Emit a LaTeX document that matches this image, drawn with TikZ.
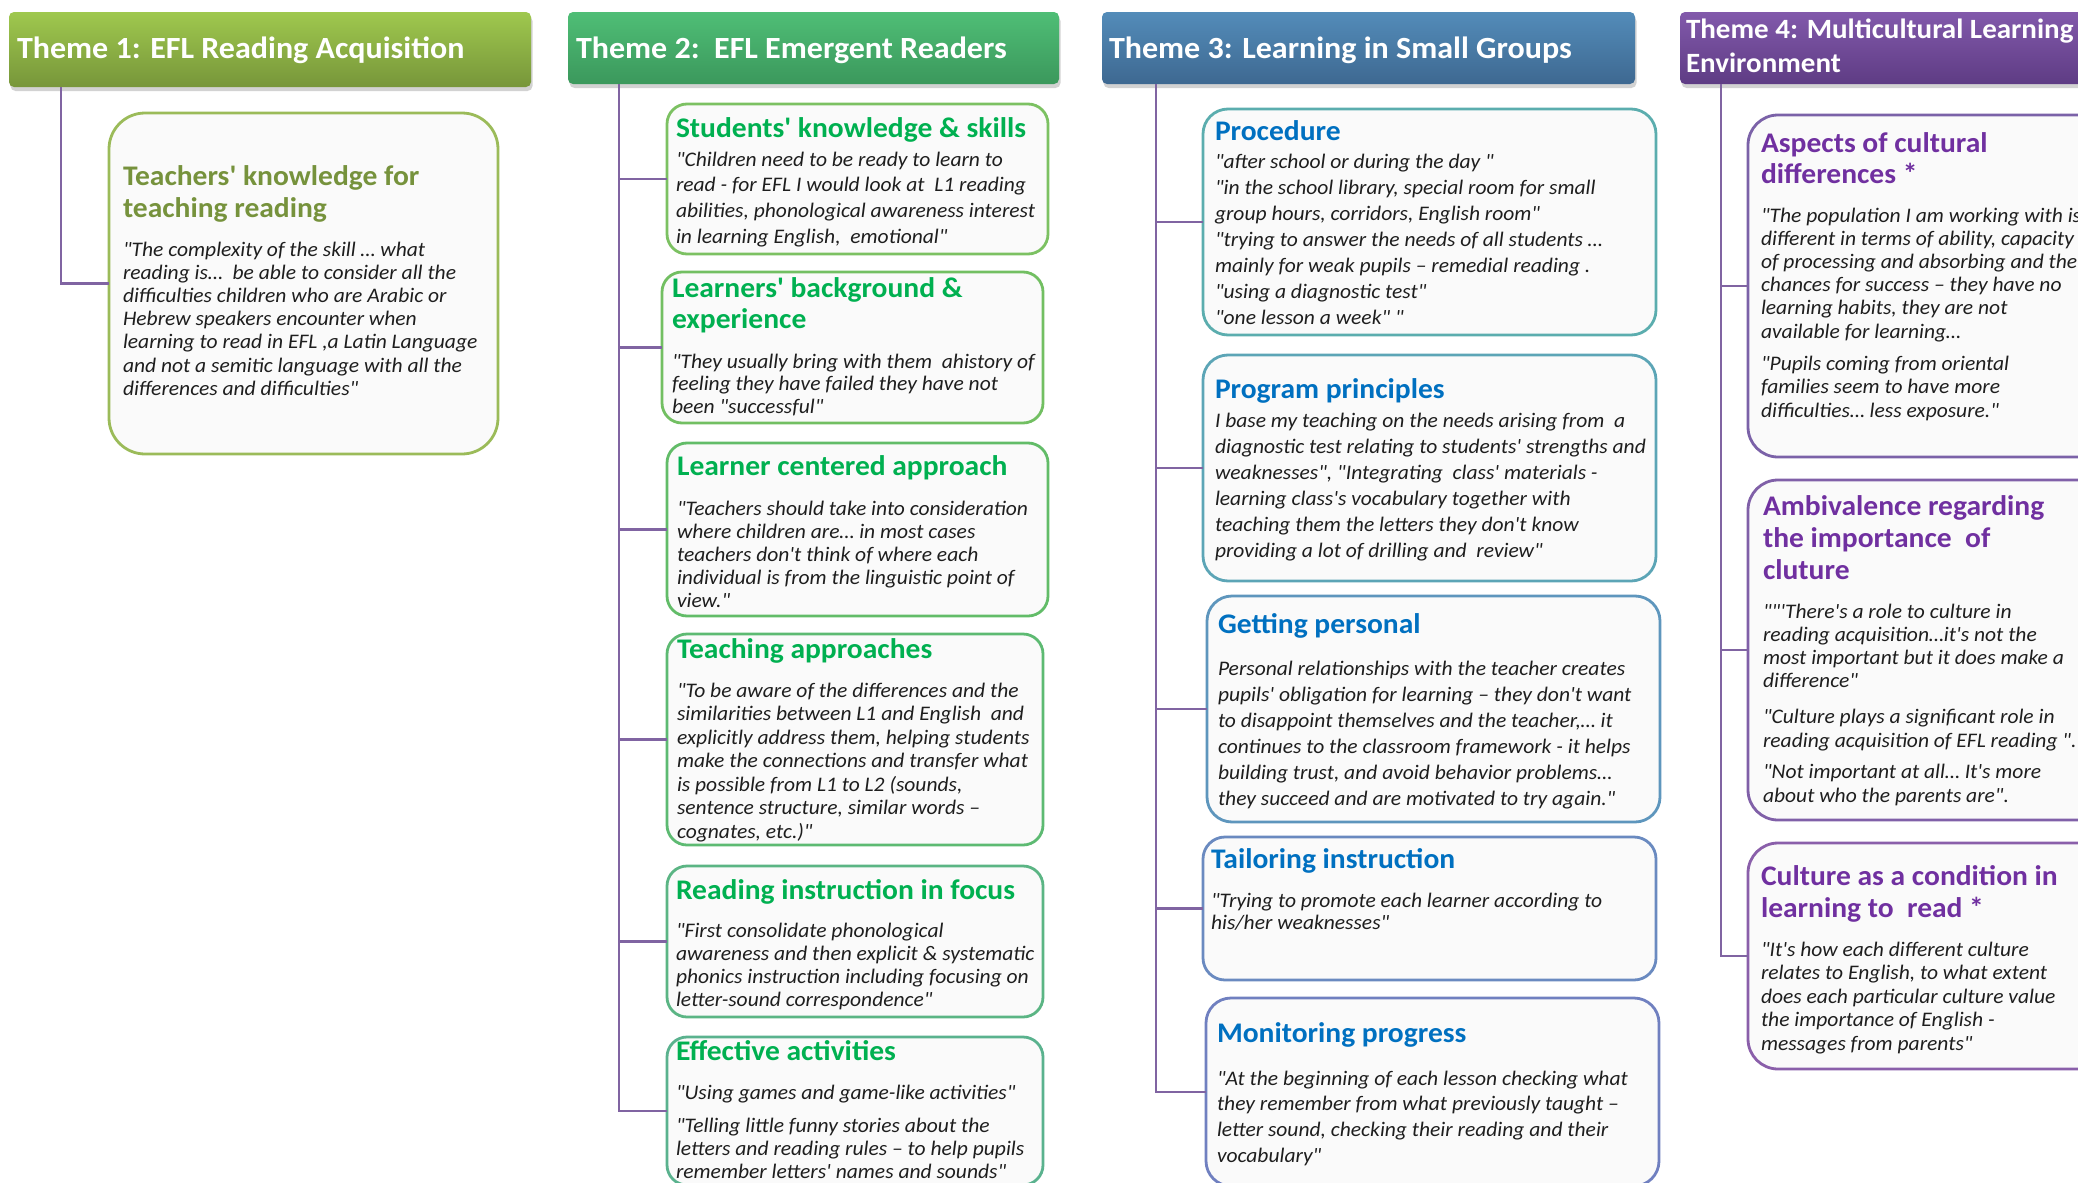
\documentclass[tikz,border=0pt]{standalone}
\usepackage{fontspec}
\setmainfont{Carlito}[Ligatures=TeXOff,FakeStretch=1.04]
\usetikzlibrary{shadows}
\definecolor{hOneT}{HTML}{9FC84E}\definecolor{hOneB}{HTML}{77963A}
\definecolor{hTwoT}{HTML}{4FBE76}\definecolor{hTwoB}{HTML}{3B985C}
\definecolor{hThrT}{HTML}{538CB9}\definecolor{hThrB}{HTML}{3E6891}
\definecolor{hFouT}{HTML}{8259AB}\definecolor{hFouB}{HTML}{5E3C84}
\definecolor{tOne}{HTML}{76923C}\definecolor{tTwo}{HTML}{00B050}
\definecolor{tThr}{HTML}{0070C0}\definecolor{tFou}{HTML}{7030A0}
\definecolor{bodycol}{HTML}{1E1E1E}\definecolor{conncol}{HTML}{8064A2}
\definecolor{boxfill}{HTML}{FAFAFA}
\definecolor{cOne}{HTML}{9BBB59}
\definecolor{cTa}{HTML}{7CC162}\definecolor{cTb}{HTML}{72BF62}
\definecolor{cTc}{HTML}{62BC68}\definecolor{cTd}{HTML}{5DBA72}
\definecolor{cTe}{HTML}{5BB584}\definecolor{cTf}{HTML}{5AB28E}
\definecolor{cHa}{HTML}{5BADAE}\definecolor{cHb}{HTML}{5CA5B6}
\definecolor{cHc}{HTML}{5E96BD}\definecolor{cHd}{HTML}{6A8AC0}
\definecolor{cHe}{HTML}{7080C0}
\definecolor{cFa}{HTML}{7B62A8}\definecolor{cFb}{HTML}{8060A8}
\definecolor{cFc}{HTML}{8A5FAA}
% name, x, baseline, font cmd, colour, size, lead, text
\newcommand\txt[8]{\node[anchor=north west,inner sep=0pt,outer sep=0pt,align=left,text=#5,font={#4\fontsize{#6}{#7}\selectfont}] (#1) at (#2,{#3-0.7*#7}) {\strut #8};}
\newcommand\hsz{30.8}\newcommand\tsz{28.4}\newcommand\bsz{20.7}
\begin{document}
\begin{tikzpicture}[x=1pt,y=-1pt,
  hdr/.style={anchor=north west,inner sep=0pt,outer sep=0pt,rounded corners=5pt,
    drop shadow={opacity=0.35,shadow xshift=1.5pt,shadow yshift=-4pt}},
  subbox/.style={anchor=north west,inner sep=0pt,outer sep=0pt,line width=2.8pt,fill=boxfill},
  conn/.style={draw=conncol,line width=2.6pt}]
\useasboundingbox (0,0) rectangle (2078,1183);
\clip (0,0) rectangle (2078,1183);
\fill[white] (0,0) rectangle (2078,1183);

% headers
\node[hdr,top color=hOneT,bottom color=hOneB,minimum width=522pt,minimum height=75pt] (h1) at (9,12) {};
\node[hdr,top color=hTwoT,bottom color=hTwoB,minimum width=491pt,minimum height=72pt] (h2) at (568,12) {};
\node[hdr,top color=hThrT,bottom color=hThrB,minimum width=533pt,minimum height=72pt] (h3) at (1102,12) {};
\node[hdr,top color=hFouT,bottom color=hFouB,minimum width=480pt,minimum height=72pt] (h4) at (1680,12) {};

\coordinate (t1) at (61,87);
\coordinate (t2) at (619,84);
\coordinate (t3) at (1156,84);
\coordinate (t4) at (1721,84);

% boxes
\node[subbox,draw=cOne,rounded corners=36pt,minimum width=389pt,minimum height=341pt] (b1) at (109,113) {};
\node[subbox,draw=cTa,rounded corners=20pt,minimum width=381pt,minimum height=150pt] (b2a) at (667,104) {};
\node[subbox,draw=cTb,rounded corners=20pt,minimum width=381pt,minimum height=151pt] (b2b) at (662,272) {};
\node[subbox,draw=cTc,rounded corners=20pt,minimum width=381pt,minimum height=173pt] (b2c) at (667,443) {};
\node[subbox,draw=cTd,rounded corners=20pt,minimum width=376pt,minimum height=211pt] (b2d) at (667,634) {};
\node[subbox,draw=cTe,rounded corners=20pt,minimum width=376pt,minimum height=151pt] (b2e) at (667,866) {};
\node[subbox,draw=cTf,rounded corners=20pt,minimum width=376pt,minimum height=148pt] (b2f) at (667,1037) {};
\node[subbox,draw=cHa,rounded corners=25pt,minimum width=453pt,minimum height=226pt] (b3a) at (1203,109) {};
\node[subbox,draw=cHb,rounded corners=25pt,minimum width=453pt,minimum height=226pt] (b3b) at (1203,355) {};
\node[subbox,draw=cHc,rounded corners=25pt,minimum width=453pt,minimum height=226pt] (b3c) at (1207,596) {};
\node[subbox,draw=cHd,rounded corners=22pt,minimum width=453pt,minimum height=143pt] (b3d) at (1203,837) {};
\node[subbox,draw=cHe,rounded corners=25pt,minimum width=453pt,minimum height=188pt] (b3e) at (1206,998) {};
\node[subbox,draw=cFa,rounded corners=30pt,minimum width=370pt,minimum height=342pt] (b4a) at (1748,115) {};
\node[subbox,draw=cFb,rounded corners=30pt,minimum width=370pt,minimum height=340pt] (b4b) at (1748,480) {};
\node[subbox,draw=cFc,rounded corners=30pt,minimum width=370pt,minimum height=226pt] (b4c) at (1748,843) {};

% connectors
\draw[conn] (t1) |- (b1.west);
\foreach \b in {b2a,b2b,b2c,b2d,b2e,b2f} {\draw[conn] (t2) |- (\b.west);}
\foreach \b in {b3a,b3b,b3c,b3d,b3e} {\draw[conn] (t3) |- (\b.west);}
\foreach \b in {b4a,b4b,b4c} {\draw[conn] (t4) |- (\b.west);}

% header texts
\txt{h1t}{17}{58}{\bfseries}{white}{\hsz}{38}{Theme 1: EFL Reading Acquisition}
\txt{h2t}{576}{58}{\bfseries}{white}{\hsz}{38}{Theme 2:\ \ EFL Emergent Readers}
\txt{h3t}{1109}{58}{\bfseries}{white}{\hsz}{38}{Theme 3: Learning in Small Groups}
\txt{h4t}{1686}{38}{\bfseries}{white}{27.9}{34}{Theme 4: Multicultural Learning\\Environment}

% theme 1
\txt{b1h}{123}{185}{\bfseries}{tOne}{\tsz}{32}{Teachers' knowledge for\\teaching reading}
\txt{b1q}{123}{256}{\itshape}{bodycol}{\bsz}{23.2}{"The complexity of the skill … what\\reading is…\ \ be able to consider all the\\difficulties children who are Arabic or\\Hebrew speakers encounter when\\learning to read in EFL ,a Latin Language\\and not a semitic language with all the\\differences and difficulties"}

% theme 2
\txt{b2ah}{676}{137}{\bfseries}{tTwo}{\tsz}{32}{Students' knowledge \& skills}
\txt{b2aq}{676}{166}{\itshape}{bodycol}{\bsz}{25.7}{"Children need to be ready to learn to\\read - for EFL I would look at\ \ L1 reading\\abilities, phonological awareness interest\\in learning English,\ \ emotional"}
\txt{b2bh}{672}{297}{\bfseries}{tTwo}{\tsz}{31}{Learners' background \&\\experience}
\txt{b2bq}{672}{368}{\itshape}{bodycol}{\bsz}{22.6}{"They usually bring with them\ \ ahistory of\\feeling they have failed they have not\\been "successful"}
\txt{b2ch}{677}{475}{\bfseries}{tTwo}{\tsz}{32}{Learner centered approach}
\txt{b2cq}{677}{515}{\itshape}{bodycol}{\bsz}{23}{"Teachers should take into consideration\\where children are… in most cases\\teachers don't think of where each\\individual is from the linguistic point of\\view."}
\txt{b2dh}{677}{658}{\bfseries}{tTwo}{\tsz}{32}{Teaching approaches}
\txt{b2dq}{677}{697}{\itshape}{bodycol}{\bsz}{23.5}{"To be aware of the differences and the\\similarities between L1 and English\ \ and\\explicitly address them, helping students\\make the connections and transfer what\\is possible from L1 to L2 (sounds,\\sentence structure, similar words –\\cognates, etc.)"}
\txt{b2eh}{676}{899}{\bfseries}{tTwo}{\tsz}{32}{Reading instruction in focus}
\txt{b2eq}{676}{937}{\itshape}{bodycol}{\bsz}{23.3}{"First consolidate phonological\\awareness and then explicit \& systematic\\phonics instruction including focusing on\\letter-sound correspondence"}
\txt{b2fh}{676}{1060}{\bfseries}{tTwo}{\tsz}{32}{Effective activities}
\txt{b2fq}{676}{1099}{\itshape}{bodycol}{\bsz}{23}{"Using games and game-like activities"}
\txt{b2fr}{676}{1132}{\itshape}{bodycol}{\bsz}{23}{"Telling little funny stories about the\\letters and reading rules – to help pupils\\remember letters' names and sounds"}

% theme 3
\txt{b3ah}{1215}{140}{\bfseries}{tThr}{\tsz}{32}{Procedure}
\txt{b3aq}{1215}{168}{\itshape}{bodycol}{\bsz}{26}{"after school or during the day "\\"in the school library, special room for small\\group hours, corridors, English room"\\"trying to answer the needs of all students …\\mainly for weak pupils – remedial reading .\\"using a diagnostic test"\\"one lesson a week" "}
\txt{b3bh}{1215}{398}{\bfseries}{tThr}{\tsz}{32}{Program principles}
\txt{b3bq}{1215}{427}{\itshape}{bodycol}{\bsz}{26}{I base my teaching on the needs arising from\ \ a\\diagnostic test relating to students' strengths and\\weaknesses", "Integrating\ \ class' materials -\\learning class's vocabulary together with\\teaching them the letters they don't know\\providing a lot of drilling and\ \ review"}
\txt{b3ch}{1218}{633}{\bfseries}{tThr}{\tsz}{32}{Getting personal}
\txt{b3cq}{1218}{675}{\itshape}{bodycol}{\bsz}{26}{Personal relationships with the teacher creates\\pupils' obligation for learning – they don't want\\to disappoint themselves and the teacher,… it\\continues to the classroom framework - it helps\\building trust, and avoid behavior problems…\\they succeed and are motivated to try again."}
\txt{b3dh}{1211}{868}{\bfseries}{tThr}{\tsz}{32}{Tailoring instruction}
\txt{b3dq}{1211}{907}{\itshape}{bodycol}{\bsz}{22.5}{"Trying to promote each learner according to\\his/her weaknesses"}
\txt{b3eh}{1217}{1042}{\bfseries}{tThr}{\tsz}{32}{Monitoring progress}
\txt{b3eq}{1217}{1085}{\itshape}{bodycol}{\bsz}{25.7}{"At the beginning of each lesson checking what\\they remember from what previously taught –\\letter sound, checking their reading and their\\vocabulary"}

% theme 4
\txt{b4ah}{1761}{152}{\bfseries}{tFou}{\tsz}{31.5}{Aspects of cultural\\differences *}
\txt{b4aq}{1761}{222}{\itshape}{bodycol}{\bsz}{23.2}{"The population I am working with is\\different in terms of ability, capacity\\of processing and absorbing and the\\chances for success – they have no\\learning habits, they are not\\available for learning…}
\txt{b4ar}{1761}{370}{\itshape}{bodycol}{\bsz}{23.5}{"Pupils coming from oriental\\families seem to have more\\difficulties… less exposure."}
\txt{b4bh}{1763}{515}{\bfseries}{tFou}{\tsz}{32}{Ambivalence regarding\\the importance\ \ of\\cluture}
\txt{b4bq}{1763}{618}{\itshape}{bodycol}{\bsz}{23.3}{""'There's a role to culture in\\reading acquisition…it's not the\\most important but it does make a\\difference"}
\txt{b4br}{1763}{723}{\itshape}{bodycol}{\bsz}{24}{"Culture plays a significant role in\\reading acquisition of EFL reading ".}
\txt{b4bs}{1763}{778}{\itshape}{bodycol}{\bsz}{24}{"Not important at all… It's more\\about who the parents are".}
\txt{b4ch}{1761}{885}{\bfseries}{tFou}{\tsz}{32}{Culture as a condition in\\learning to\ \ read *}
\txt{b4cq}{1761}{956}{\itshape}{bodycol}{\bsz}{23.5}{"It's how each different culture\\relates to English, to what extent\\does each particular culture value\\the importance of English -\\messages from parents"}
\end{tikzpicture}
\end{document}
